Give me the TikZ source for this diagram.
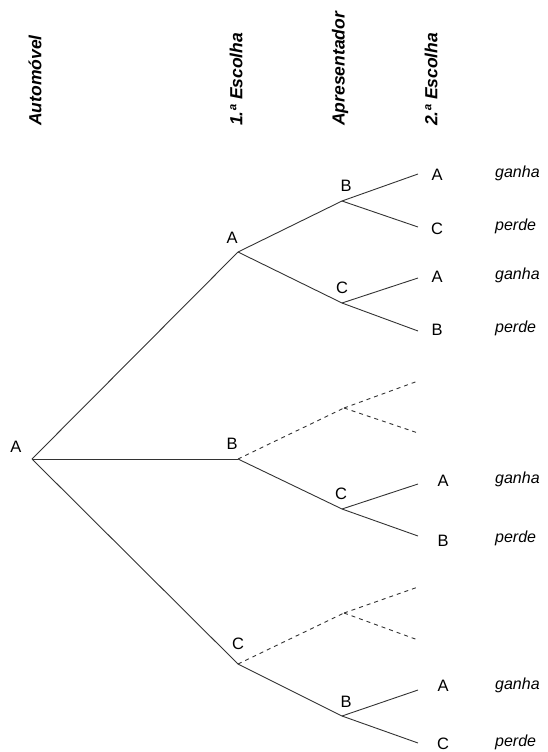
\documentclass[tikz,border=0pt]{standalone}
\usepackage{fontspec}
\setmainfont{Liberation Sans}
\begin{document}
\begin{tikzpicture}[x=1pt, y=-1pt,
  branch/.style={draw=black!80, line width=0.9pt},
  hidden/.style={branch, dash pattern=on 4pt off 4pt},
  lbl/.style={inner sep=0pt, font=\fontsize{16.5}{18}\selectfont},
  outcome/.style={inner sep=0pt, anchor=west, font=\fontsize{16}{18}\selectfont\itshape},
  head/.style={inner sep=0pt, anchor=west, rotate=90, font=\fontsize{17.5}{20}\selectfont\bfseries\itshape}]
\useasboundingbox (0,0) rectangle (547,752);

%% column headings
\node[head] (h_auto) at (35,126) {Automóvel};
\node[head] (h_first) at (236,126) {1.ª Escolha};
\node[head] (h_host) at (340,126) {Apresentador};
\node[head] (h_second) at (431,126) {2.ª Escolha};

%% branch points
\coordinate (root) at (32,459);
\coordinate (p_A) at (238,252);
\coordinate (p_B) at (238,459);
\coordinate (p_C) at (238,664);

\coordinate (p_AB) at (342,201);
\coordinate (p_AC) at (342,303);
\coordinate (p_Bx) at (344,408);
\coordinate (p_BC) at (342,509);
\coordinate (p_Cx) at (344,613);
\coordinate (p_CB) at (342,716);

% leaf ends
\coordinate (e_ABA) at (418,174);
\coordinate (e_ABC) at (418,227);
\coordinate (e_ACA) at (418,278);
\coordinate (e_ACB) at (418,331);
\coordinate (e_Bx1) at (418,381);
\coordinate (e_Bx2) at (418,433);
\coordinate (e_BCA) at (418,484);
\coordinate (e_BCB) at (418,536);
\coordinate (e_Cx1) at (418,587);
\coordinate (e_Cx2) at (418,640);
\coordinate (e_CBA) at (418,690);
\coordinate (e_CBC) at (418,743);

%% labels of the branch points
\node[lbl] (l_root) at (16,447) {A};
\node[lbl] (l_A) at (232,238) {A};
\node[lbl] (l_B) at (232,444) {B};
\node[lbl] (l_C) at (238,644) {C};
\node[lbl] (l_AB) at (346,186) {B};
\node[lbl] (l_AC) at (342,288) {C};
\node[lbl] (l_BC) at (341,494) {C};
\node[lbl] (l_CB) at (346,702) {B};

%% second choice and outcome
\node[lbl] (l_ABA) at (437,175) {A};
\node[lbl] (l_ABC) at (437,229) {C};
\node[lbl] (l_ACA) at (437,277) {A};
\node[lbl] (l_ACB) at (437,330) {B};
\node[lbl] (l_BCA) at (443,481) {A};
\node[lbl] (l_BCB) at (443,541) {B};
\node[lbl] (l_CBA) at (443,686) {A};
\node[lbl] (l_CBC) at (443,744) {C};

\node[outcome] (o_ABA) at (495,173) {ganha};
\node[outcome] (o_ABC) at (495,226) {perde};
\node[outcome] (o_ACA) at (495,275) {ganha};
\node[outcome] (o_ACB) at (495,328) {perde};
\node[outcome] (o_BCA) at (495,479) {ganha};
\node[outcome] (o_BCB) at (495,538) {perde};
\node[outcome] (o_CBA) at (495,685) {ganha};
\node[outcome] (o_CBC) at (495,742) {perde};

%% edges
\draw[branch] (root) -- (p_A);
\draw[branch] (root) -- (p_B);
\draw[branch] (root) -- (p_C);

\draw[branch] (p_A) -- (p_AB);
\draw[branch] (p_A) -- (p_AC);
\draw[hidden] (p_B) -- (p_Bx);
\draw[branch] (p_B) -- (p_BC);
\draw[hidden] (p_C) -- (p_Cx);
\draw[branch] (p_C) -- (p_CB);

\draw[branch] (p_AB) -- (e_ABA);
\draw[branch] (p_AB) -- (e_ABC);
\draw[branch] (p_AC) -- (e_ACA);
\draw[branch] (p_AC) -- (e_ACB);
\draw[hidden] (p_Bx) -- (e_Bx1);
\draw[hidden] (p_Bx) -- (e_Bx2);
\draw[branch] (p_BC) -- (e_BCA);
\draw[branch] (p_BC) -- (e_BCB);
\draw[hidden] (p_Cx) -- (e_Cx1);
\draw[hidden] (p_Cx) -- (e_Cx2);
\draw[branch] (p_CB) -- (e_CBA);
\draw[branch] (p_CB) -- (e_CBC);

\end{tikzpicture}
\end{document}
